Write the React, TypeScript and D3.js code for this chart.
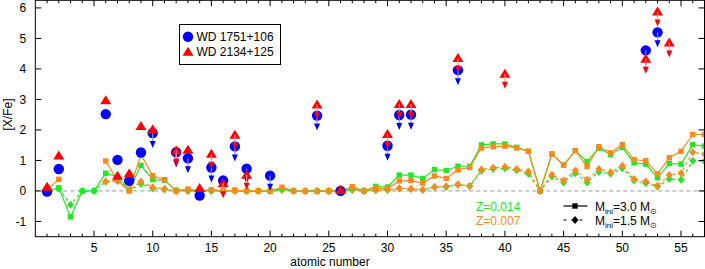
import React from "react";
import * as d3 from "d3";

// observed abundances
const wd1751Z = [1, 2, 6, 7, 8, 9, 10, 12, 13, 14, 15, 16, 17, 18, 20, 24, 26, 30, 31, 32, 36, 52, 53];
const wd1751Val = [-0.02, 0.72, 2.52, 1.02, 0.33, 1.26, 1.9, 1.27, 1.07, -0.15, 0.77, 0.34, 1.46, 0.73, 0.5, 2.47, 0.0, 1.48, 2.49, 2.5, 3.96, 4.61, 5.2];
const wd1751Lim = [0, 0, 0, 0, 0, 0, 1, 1, 1, 0, 1, 0, 1, 1, 1, 1, 0, 1, 1, 1, 1, 1, 1];

const wd2134Z = [1, 2, 6, 7, 8, 9, 10, 12, 13, 14, 15, 16, 17, 18, 24, 26, 30, 31, 32, 36, 40, 52, 53, 54];
const wd2134Val = [0.14, 1.16, 2.97, 0.5, 0.58, 2.13, 2.02, 1.33, 1.35, 0.1, 1.22, 0.25, 1.84, 0.53, 2.83, 0.04, 1.87, 2.85, 2.85, 4.36, 3.84, 4.33, 5.88, 4.87];
const wd2134Lim = [0, 0, 0, 0, 0, 0, 0, 1, 0, 0, 1, 1, 1, 1, 1, 0, 1, 1, 1, 1, 1, 1, 1, 1];

// models, Z = 1..57
const modelZ = d3.range(1, 58);
const m30z014 = [0.0, 0.1, -0.85, 0.0, 0.0, 0.58, 0.47, 0.03, 0.84, 0.37, 0.35, 0.02, 0.04, 0.0, 0.03, 0.0, 0.02, 0.0, 0.0, 0.0, 0.08, 0.0, -0.01, -0.01, 0.0, 0.0, 0.1, 0.0, 0.15, 0.13, 0.52, 0.52, 0.41, 0.7, 0.67, 0.81, 0.81, 1.51, 1.54, 1.54, 1.43, 1.3, 0.0, 1.21, 0.85, 1.32, 0.96, 1.4, 1.19, 1.43, 0.92, 0.88, 0.43, 0.9, 0.88, 1.52, 1.47];
const m30z007 = [0.05, 0.38, null, null, null, 0.98, 0.34, 0.0, 1.2, 0.5, 0.37, 0.0, 0.06, 0.0, 0.04, 0.0, 0.02, 0.0, 0.0, 0.0, 0.12, 0.0, -0.01, -0.01, 0.0, 0.0, 0.14, 0.0, 0.1, 0.07, 0.33, 0.34, 0.26, 0.49, 0.41, 0.69, 0.77, 1.41, 1.45, 1.47, 1.41, 1.3, 0.0, 1.21, 0.85, 1.32, 0.8, 1.45, 1.25, 1.52, 1.03, 0.99, 0.56, 1.09, 1.3, 1.85, 1.85];
const m15z014 = [null, 0.08, -0.45, 0.0, 0.0, 0.3, 0.33, 0.02, 0.23, 0.08, 0.05, 0.0, 0.0, 0.0, 0.0, 0.0, 0.0, 0.0, 0.0, 0.0, 0.03, 0.0, 0.0, 0.0, 0.0, 0.0, 0.03, 0.0, 0.02, 0.03, 0.08, 0.06, 0.03, 0.12, 0.13, 0.2, 0.15, 0.66, 0.72, 0.74, 0.68, 0.56, 0.0, 0.47, 0.28, 0.58, 0.28, 0.63, 0.56, 0.74, 0.34, 0.25, 0.14, 0.39, 0.37, 0.99, 0.97];
const m15z007 = [null, null, null, null, null, 0.31, 0.35, 0.03, 0.31, 0.12, 0.07, 0.0, 0.0, 0.0, 0.0, 0.0, 0.0, 0.0, 0.0, 0.0, 0.04, 0.0, 0.0, 0.0, 0.0, 0.0, 0.05, 0.0, 0.03, 0.04, 0.09, 0.07, 0.04, 0.13, 0.15, 0.22, 0.17, 0.7, 0.76, 0.79, 0.72, 0.64, 0.0, 0.53, 0.34, 0.67, 0.37, 0.72, 0.61, 0.83, 0.39, 0.31, 0.17, 0.52, 0.58, 1.27, 1.2];

const xTicks = [5, 10, 15, 20, 25, 30, 35, 40, 45, 50, 55];
const yTicks = [-1, 0, 1, 2, 3, 4, 5, 6];

const GREEN = "#22e622";
const ORANGE = "#fb8a1e";
const BLUE = "#0000ff";
const RED = "#ff0000";
const FONT = "Liberation Sans, Arial, sans-serif";

const W = 705;
const H = 269;
const x = d3.scaleLinear().domain([0, 57]).range([35.3, 704.5]);
const y = d3.scaleLinear().domain([-1.5, 6.25]).range([236.7, 0.3]);

type Pt = { z: number; v: number | null };

const modelLine = d3
  .line<Pt>()
  .defined((d) => d.v !== null)
  .x((d) => x(d.z))
  .y((d) => y(d.v as number));

const toPts = (vals: (number | null)[]): Pt[] => modelZ.map((z, i) => ({ z, v: vals[i] }));

function Model({ vals, color, dashed }: { vals: (number | null)[]; color: string; dashed: boolean }) {
  const pts = toPts(vals);
  return (
    <g>
      <path d={modelLine(pts) || ""} fill="none" stroke={color} strokeWidth={1.2} strokeDasharray={dashed ? "3,3" : undefined} />
      {pts
        .filter((d) => d.v !== null)
        .map((d, i) =>
          dashed ? (
            <path key={i} d={`M${x(d.z)},${y(d.v as number) - 4}l3.5,4l-3.5,4l-3.5,-4z`} fill={color} />
          ) : (
            <rect key={i} x={x(d.z) - 2.7} y={y(d.v as number) - 2.7} width={5.4} height={5.4} fill={color} />
          )
        )}
    </g>
  );
}

function Arrow({ z, v, color, light }: { z: number; v: number; color: string; light: string }) {
  const cx = x(z);
  const cy = y(v);
  const tip = cy + 15;
  return (
    <g>
      <line x1={cx} x2={cx} y1={cy} y2={tip - 5} stroke={light} strokeWidth={1.2} />
      <path d={`M${cx - 3},${tip - 7}L${cx + 3},${tip - 7}L${cx},${tip}Z`} fill={color} />
    </g>
  );
}

const triPath = (cx: number, cy: number, s = 5) => `M${cx},${cy - s}L${cx + s + 0.5},${cy + s - 1}L${cx - s - 0.5},${cy + s - 1}Z`;

export default function App() {
  const minor = d3.range(1, 57);
  const [x0, x1] = x.range();
  const [y0, y1] = y.range();
  return (
    <svg width={W} height={H} style={{ position: "fixed", left: 0, top: 0, background: "#fff" }} fontFamily={FONT}>
      {/* zero line */}
      <line x1={x0} x2={x1} y1={y(0)} y2={y(0)} stroke="#999" strokeWidth={1} strokeDasharray="4,3" />

      {/* models */}
      <Model vals={m15z014} color={GREEN} dashed={true} />
      <Model vals={m15z007} color={ORANGE} dashed={true} />
      <Model vals={m30z014} color={GREEN} dashed={false} />
      <Model vals={m30z007} color={ORANGE} dashed={false} />

      {/* WD 1751+106 */}
      {wd1751Z.map((z, i) => (
        <circle key={"c" + i} cx={x(z)} cy={y(wd1751Val[i])} r={5.2} fill={BLUE} />
      ))}
      {wd1751Z.map((z, i) =>
        wd1751Lim[i] ? <Arrow key={"ca" + i} z={z} v={wd1751Val[i]} color={BLUE} light="#8c8cff" /> : null
      )}

      {/* WD 2134+125 */}
      {wd2134Z.map((z, i) => (
        <path key={"t" + i} d={triPath(x(z), y(wd2134Val[i]))} fill={RED} />
      ))}
      {wd2134Z.map((z, i) =>
        wd2134Lim[i] ? <Arrow key={"ta" + i} z={z} v={wd2134Val[i]} color={RED} light="#ff9090" /> : null
      )}

      {/* frame */}
      <rect x={x0} y={y1} width={x1 - x0} height={y0 - y1} fill="none" stroke="#000" strokeWidth={1} />
      {minor.map((t) => (
        <g key={"m" + t} stroke="#000" strokeWidth={1}>
          <line x1={x(t)} x2={x(t)} y1={y0} y2={y0 - (t % 5 === 0 ? 6 : 3)} />
          <line x1={x(t)} x2={x(t)} y1={y1} y2={y1 + (t % 5 === 0 ? 6 : 3)} />
        </g>
      ))}
      {yTicks.map((t) => (
        <g key={"y" + t} stroke="#000" strokeWidth={1}>
          <line x1={x0} x2={x0 + 6} y1={y(t)} y2={y(t)} />
          <line x1={x1} x2={x1 - 6} y1={y(t)} y2={y(t)} />
        </g>
      ))}
      {yTicks.map((t) => (
        <text key={"yl" + t} x={x0 - 9} y={y(t) + 4.3} textAnchor="end" fontSize={12} fill="#000">
          {t}
        </text>
      ))}
      {xTicks.map((t) => (
        <text key={"xl" + t} x={x(t)} y={251.7} textAnchor="middle" fontSize={12} fill="#000">
          {t}
        </text>
      ))}
      <text x={330} y={266} textAnchor="middle" fontSize={12} fill="#000">
        atomic number
      </text>
      <text transform="translate(11.5,114.5) rotate(-90)" textAnchor="middle" fontSize={12} fill="#000">
        [X/Fe]
      </text>

      {/* observation legend */}
      <rect x={179.5} y={24.5} width={101} height={40} fill="#fff" stroke="#000" strokeWidth={1} />
      <circle cx={188} cy={36.7} r={5.2} fill={BLUE} />
      <path d={triPath(188, 51.7)} fill={RED} />
      <text x={196.5} y={41} fontSize={12} fill="#000">
        WD 1751+106
      </text>
      <text x={196.5} y={56} fontSize={12} fill="#000">
        WD 2134+125
      </text>

      {/* model legend */}
      <text x={476} y={211} fontSize={12} fill={GREEN}>
        Z=0.014
      </text>
      <text x={476} y={225} fontSize={12} fill={ORANGE}>
        Z=0.007
      </text>
      <line x1={563.5} x2={587.5} y1={206} y2={206} stroke="#000" strokeWidth={1.2} />
      <rect x={572.3} y={203.3} width={5.4} height={5.4} fill="#000" />
      <line x1={563.5} x2={587.5} y1={220} y2={220} stroke="#000" strokeWidth={1.2} strokeDasharray="3,5" />
      <path d={`M575,216l3.5,4l-3.5,4l-3.5,-4z`} fill="#000" />
      <text x={595} y={211} fontSize={12} fill="#000">
        M<tspan fontSize={8} dy={3}>ini</tspan>
        <tspan dy={-3}>=3.0 M</tspan>
        <tspan fontSize={8} dy={3}>⊙</tspan>
      </text>
      <text x={595} y={225} fontSize={12} fill="#000">
        M<tspan fontSize={8} dy={3}>ini</tspan>
        <tspan dy={-3}>=1.5 M</tspan>
        <tspan fontSize={8} dy={3}>⊙</tspan>
      </text>
    </svg>
  );
}
